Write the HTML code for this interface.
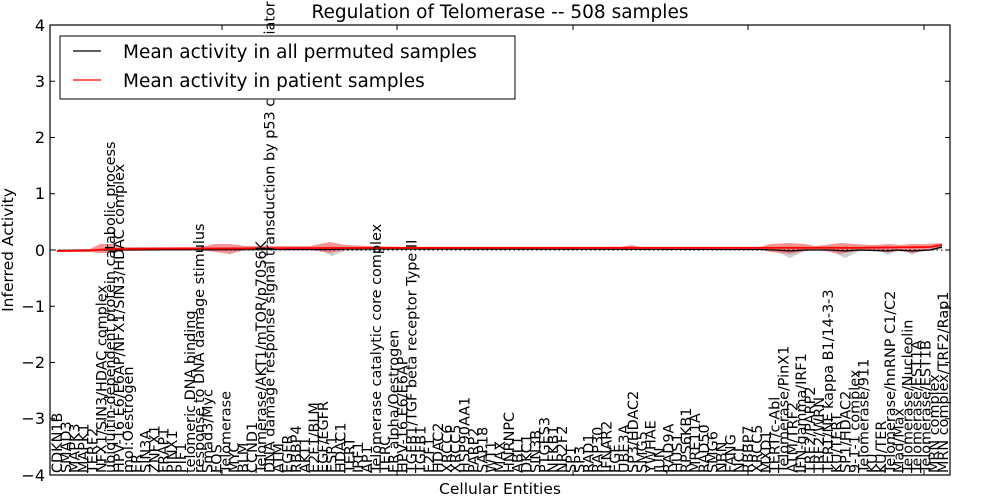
<!DOCTYPE html>
<html><head><meta charset="utf-8"><style>
html,body{margin:0;padding:0;background:#fff;}
svg{display:block;font-family:"DejaVu Sans","Liberation Sans",sans-serif;}
</style></head><body>
<svg width="1000" height="500" viewBox="0 0 1000 500" xmlns="http://www.w3.org/2000/svg">
<rect width="1000" height="500" fill="#fff"/>
<!-- bands -->
<g fill="#cfcfcf">
<polygon points="57,251 90,251 100,249 115,249 130,250 210,250 225,249 240,250 320,250 332,256 345,251 400,250 760,250 775,251 790,258 805,251 820,250 830,251 845,258 860,251 880,251 888,255 896,251 905,250 912,255 920,251 930,251 942,249 942,246 930,249 912,248 905,249 896,249 888,248 880,249 860,249 845,246 830,249 820,249 805,249 790,246 775,249 760,249 400,249 345,248 332,246 320,249 240,249 225,248 210,249 130,249 115,248 100,248 90,249 57,250"/>
</g>
<g fill="#f07070" opacity="0.75">
<polygon points="57,252 90,252 100,253 112,253 125,251 200,250 215,252 230,254 245,250 310,250 330,253 345,250 400,249 620,249 640,249 760,249 770,252 790,254 805,251 815,250 825,251 840,254 855,251 870,250 875,251 890,252 900,251 912,253 925,251 942,248 942,243 925,244 912,244 900,245 890,244 875,245 870,245 855,244 840,243 825,245 815,246 805,244 790,243 770,244 760,247 640,247 632,245 620,247 400,247 345,245 330,242 310,246 245,246 230,244 215,244 200,247 125,247 112,244 100,244 90,249 57,250"/>
</g>
<!-- dotted zero line -->
<line x1="50" y1="250" x2="950" y2="250" stroke="#000" stroke-width="1" stroke-dasharray="1.5,3"/>
<!-- black mean line -->
<polyline fill="none" stroke="#000" stroke-width="1.2" points="57,250.5 100,250 330,249.5 345,249 400,249 760,249.5 775,250 790,251 805,250 830,250 845,251 860,250 888,251 896,250 912,251 930,250 942,247"/>
<!-- red line -->
<polyline fill="none" stroke="#ff0000" stroke-width="1.8" points="57,251 90,250.5 110,249 200,248.5 330,248 400,247.8 760,247.8 860,247.8 930,247 942,245"/>
<!-- axes frame -->
<rect x="50" y="25" width="900" height="450" fill="none" stroke="#000" stroke-width="1.2"/>
<g stroke="#000" stroke-width="1">
<line x1="50" y1="25" x2="55" y2="25"/><line x1="945" y1="25" x2="950" y2="25"/>
<line x1="50" y1="81.25" x2="55" y2="81.25"/><line x1="945" y1="81.25" x2="950" y2="81.25"/>
<line x1="50" y1="137.5" x2="55" y2="137.5"/><line x1="945" y1="137.5" x2="950" y2="137.5"/>
<line x1="50" y1="193.75" x2="55" y2="193.75"/><line x1="945" y1="193.75" x2="950" y2="193.75"/>
<line x1="50" y1="250" x2="55" y2="250"/><line x1="945" y1="250" x2="950" y2="250"/>
<line x1="50" y1="306.25" x2="55" y2="306.25"/><line x1="945" y1="306.25" x2="950" y2="306.25"/>
<line x1="50" y1="362.5" x2="55" y2="362.5"/><line x1="945" y1="362.5" x2="950" y2="362.5"/>
<line x1="50" y1="418.75" x2="55" y2="418.75"/><line x1="945" y1="418.75" x2="950" y2="418.75"/>
<line x1="50" y1="475" x2="55" y2="475"/><line x1="945" y1="475" x2="950" y2="475"/>
<line x1="222" y1="25" x2="222" y2="30"/><line x1="397" y1="25" x2="397" y2="30"/><line x1="573" y1="25" x2="573" y2="30"/><line x1="748" y1="25" x2="748" y2="30"/><line x1="924" y1="25" x2="924" y2="30"/>
<line x1="222" y1="470" x2="222" y2="475"/><line x1="397" y1="470" x2="397" y2="475"/><line x1="573" y1="470" x2="573" y2="475"/><line x1="748" y1="470" x2="748" y2="475"/><line x1="924" y1="470" x2="924" y2="475"/>
</g>
<g font-size="16" text-anchor="end" fill="#000">
<text x="45" y="31">4</text>
<text x="45" y="87">3</text>
<text x="45" y="143">2</text>
<text x="45" y="199">1</text>
<text x="45" y="256">0</text>
<text x="45" y="312">−1</text>
<text x="45" y="368">−2</text>
<text x="45" y="424">−3</text>
<text x="45" y="481">−4</text>
</g>
<!-- x labels -->
<g font-size="14.4" fill="#000">
<text transform="translate(57.0,473) rotate(-90)" dy="0.35em">CDKN1B</text>
<text transform="translate(65.9,473) rotate(-90)" dy="0.35em">SMAD3</text>
<text transform="translate(74.7,473) rotate(-90)" dy="0.35em">MAPK3</text>
<text transform="translate(83.6,473) rotate(-90)" dy="0.35em">MAPK1</text>
<text transform="translate(92.4,473) rotate(-90)" dy="0.35em">TERF2</text>
<text transform="translate(101.3,473) rotate(-90)" dy="0.35em">NFX1/SIN3/HDAC complex</text>
<text transform="translate(110.2,473) rotate(-90)" dy="0.35em">ubiquitin-dependent protein catabolic process</text>
<text transform="translate(119.0,473) rotate(-90)" dy="0.35em">HPV-16 E6/E6AP/NFX1/SIN3/HDAC complex</text>
<text transform="translate(127.9,473) rotate(-90)" dy="0.35em">mol:Oestrogen</text>
<text transform="translate(136.7,473) rotate(-90)" dy="0.35em">ER</text>
<text transform="translate(145.6,473) rotate(-90)" dy="0.35em">SIN3A</text>
<text transform="translate(154.5,473) rotate(-90)" dy="0.35em">ZNFX1</text>
<text transform="translate(163.3,473) rotate(-90)" dy="0.35em">FRAP1</text>
<text transform="translate(172.2,473) rotate(-90)" dy="0.35em">PINX1</text>
<text transform="translate(181.0,473) rotate(-90)" dy="0.35em">PIF1</text>
<text transform="translate(189.9,473) rotate(-90)" dy="0.35em">telomeric DNA binding</text>
<text transform="translate(198.8,473) rotate(-90)" dy="0.35em">response to DNA damage stimulus</text>
<text transform="translate(207.6,473) rotate(-90)" dy="0.35em">Smad3/Myc</text>
<text transform="translate(216.5,473) rotate(-90)" dy="0.35em">FOS</text>
<text transform="translate(225.3,473) rotate(-90)" dy="0.35em">Telomerase</text>
<text transform="translate(234.2,473) rotate(-90)" dy="0.35em">MYC</text>
<text transform="translate(243.1,473) rotate(-90)" dy="0.35em">BLM</text>
<text transform="translate(251.9,473) rotate(-90)" dy="0.35em">CCND1</text>
<text transform="translate(260.8,473) rotate(-90)" dy="0.35em">Telomerase/AKT1/mTOR/p70S6K</text>
<text transform="translate(269.6,473) rotate(-90)" dy="0.35em">DNA damage response signal transduction by p53 class mediator resulting</text>
<text transform="translate(278.5,473) rotate(-90)" dy="0.35em">ATM</text>
<text transform="translate(287.4,473) rotate(-90)" dy="0.35em">EGFR</text>
<text transform="translate(296.2,473) rotate(-90)" dy="0.35em">RBBP4</text>
<text transform="translate(305.1,473) rotate(-90)" dy="0.35em">AKT1</text>
<text transform="translate(313.9,473) rotate(-90)" dy="0.35em">E2F1/BLM</text>
<text transform="translate(322.8,473) rotate(-90)" dy="0.35em">EGF/EGFR</text>
<text transform="translate(331.7,473) rotate(-90)" dy="0.35em">ESR1</text>
<text transform="translate(340.5,473) rotate(-90)" dy="0.35em">HDAC1</text>
<text transform="translate(349.4,473) rotate(-90)" dy="0.35em">TERT</text>
<text transform="translate(358.2,473) rotate(-90)" dy="0.35em">IRF1</text>
<text transform="translate(367.1,473) rotate(-90)" dy="0.35em">AP1</text>
<text transform="translate(376.0,473) rotate(-90)" dy="0.35em">Telomerase catalytic core complex</text>
<text transform="translate(384.8,473) rotate(-90)" dy="0.35em">TERC</text>
<text transform="translate(393.7,473) rotate(-90)" dy="0.35em">ER alpha/Oestrogen</text>
<text transform="translate(402.5,473) rotate(-90)" dy="0.35em">HPV-16 E6/E6AP</text>
<text transform="translate(411.4,473) rotate(-90)" dy="0.35em">TGFB1/TGF beta receptor Type II</text>
<text transform="translate(420.3,473) rotate(-90)" dy="0.35em">TGFB1</text>
<text transform="translate(429.1,473) rotate(-90)" dy="0.35em">E2F1</text>
<text transform="translate(438.0,473) rotate(-90)" dy="0.35em">HDAC2</text>
<text transform="translate(446.8,473) rotate(-90)" dy="0.35em">XRCC6</text>
<text transform="translate(455.7,473) rotate(-90)" dy="0.35em">XRCC5</text>
<text transform="translate(464.6,473) rotate(-90)" dy="0.35em">HSP90AA1</text>
<text transform="translate(473.4,473) rotate(-90)" dy="0.35em">PARP2</text>
<text transform="translate(482.3,473) rotate(-90)" dy="0.35em">SAP18</text>
<text transform="translate(491.1,473) rotate(-90)" dy="0.35em">WT1</text>
<text transform="translate(500.0,473) rotate(-90)" dy="0.35em">MAX</text>
<text transform="translate(508.9,473) rotate(-90)" dy="0.35em">HNRNPC</text>
<text transform="translate(517.7,473) rotate(-90)" dy="0.35em">ABL1</text>
<text transform="translate(526.6,473) rotate(-90)" dy="0.35em">DKC1</text>
<text transform="translate(535.4,473) rotate(-90)" dy="0.35em">SIN3B</text>
<text transform="translate(544.3,473) rotate(-90)" dy="0.35em">PTGES3</text>
<text transform="translate(553.2,473) rotate(-90)" dy="0.35em">NFKB1</text>
<text transform="translate(562.0,473) rotate(-90)" dy="0.35em">NR2F2</text>
<text transform="translate(570.9,473) rotate(-90)" dy="0.35em">SP1</text>
<text transform="translate(579.7,473) rotate(-90)" dy="0.35em">SP3</text>
<text transform="translate(588.6,473) rotate(-90)" dy="0.35em">RAD1</text>
<text transform="translate(597.5,473) rotate(-90)" dy="0.35em">RAP30</text>
<text transform="translate(606.3,473) rotate(-90)" dy="0.35em">IFNAR2</text>
<text transform="translate(615.2,473) rotate(-90)" dy="0.35em">EGF</text>
<text transform="translate(624.0,473) rotate(-90)" dy="0.35em">UBE3A</text>
<text transform="translate(632.9,473) rotate(-90)" dy="0.35em">SP3/HDAC2</text>
<text transform="translate(641.8,473) rotate(-90)" dy="0.35em">SMG5</text>
<text transform="translate(650.6,473) rotate(-90)" dy="0.35em">YWHAE</text>
<text transform="translate(659.5,473) rotate(-90)" dy="0.35em">JUN</text>
<text transform="translate(668.3,473) rotate(-90)" dy="0.35em">RAD9A</text>
<text transform="translate(677.2,473) rotate(-90)" dy="0.35em">HUS1</text>
<text transform="translate(686.1,473) rotate(-90)" dy="0.35em">RPS6KB1</text>
<text transform="translate(694.9,473) rotate(-90)" dy="0.35em">MRE11A</text>
<text transform="translate(703.8,473) rotate(-90)" dy="0.35em">RAD50</text>
<text transform="translate(712.6,473) rotate(-90)" dy="0.35em">SMG6</text>
<text transform="translate(721.5,473) rotate(-90)" dy="0.35em">NBN</text>
<text transform="translate(730.4,473) rotate(-90)" dy="0.35em">FANG</text>
<text transform="translate(739.2,473) rotate(-90)" dy="0.35em">NCL</text>
<text transform="translate(748.1,473) rotate(-90)" dy="0.35em">RBBP7</text>
<text transform="translate(756.9,473) rotate(-90)" dy="0.35em">XRCC5</text>
<text transform="translate(765.8,473) rotate(-90)" dy="0.35em">MXD1</text>
<text transform="translate(774.7,473) rotate(-90)" dy="0.35em">TERT/c-Abl</text>
<text transform="translate(783.5,473) rotate(-90)" dy="0.35em">Telomerase/PinX1</text>
<text transform="translate(792.4,473) rotate(-90)" dy="0.35em">ATM/TRF2</text>
<text transform="translate(801.2,473) rotate(-90)" dy="0.35em">IFN-gamma/IRF1</text>
<text transform="translate(810.1,473) rotate(-90)" dy="0.35em">TRF2/PARP2</text>
<text transform="translate(819.0,473) rotate(-90)" dy="0.35em">TRF2/WRN</text>
<text transform="translate(827.8,473) rotate(-90)" dy="0.35em">TERT/NF kappa B1/14-3-3</text>
<text transform="translate(836.7,473) rotate(-90)" dy="0.35em">KU/TERT</text>
<text transform="translate(845.5,473) rotate(-90)" dy="0.35em">SP1/HDAC2</text>
<text transform="translate(854.4,473) rotate(-90)" dy="0.35em">9-1-1 complex</text>
<text transform="translate(863.3,473) rotate(-90)" dy="0.35em">Telomerase/911</text>
<text transform="translate(872.1,473) rotate(-90)" dy="0.35em">KU</text>
<text transform="translate(881.0,473) rotate(-90)" dy="0.35em">KU/TER</text>
<text transform="translate(889.8,473) rotate(-90)" dy="0.35em">Telomerase/hnRNP C1/C2</text>
<text transform="translate(898.7,473) rotate(-90)" dy="0.35em">Mad/Max</text>
<text transform="translate(907.6,473) rotate(-90)" dy="0.35em">Telomerase/Nucleolin</text>
<text transform="translate(916.4,473) rotate(-90)" dy="0.35em">Telomerase/EST1A</text>
<text transform="translate(925.3,473) rotate(-90)" dy="0.35em">Telomerase/EST1B</text>
<text transform="translate(934.1,473) rotate(-90)" dy="0.35em">MRN complex</text>
<text transform="translate(943.0,473) rotate(-90)" dy="0.35em">MRN complex/TRF2/Rap1</text>
</g>
<text x="500" y="18" font-size="18.5" text-anchor="middle">Regulation of Telomerase -- 508 samples</text>
<text x="500" y="494" font-size="15.5" text-anchor="middle">Cellular Entities</text>
<text transform="translate(13,250) rotate(-90)" font-size="15.5" text-anchor="middle">Inferred Activity</text>
<!-- legend -->
<rect x="60" y="36" width="455" height="63" fill="#fff" stroke="#000" stroke-width="1"/>
<line x1="73" y1="51" x2="101" y2="51" stroke="#000" stroke-width="1.2"/>
<line x1="73" y1="80" x2="101" y2="80" stroke="#ff0000" stroke-width="1.2"/>
<text x="123" y="58" font-size="18.5">Mean activity in all permuted samples</text>
<text x="123" y="87" font-size="18.5">Mean activity in patient samples</text>
</svg>
</body></html>
